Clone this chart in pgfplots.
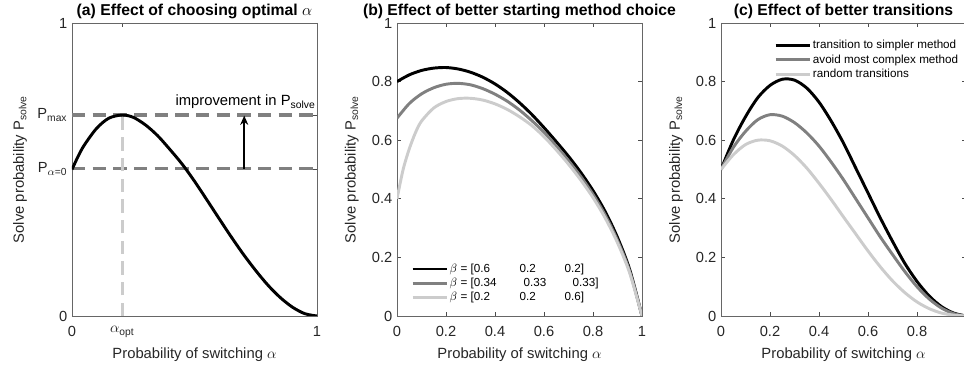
\documentclass[border=0pt]{standalone}
\usepackage{pgfplots}
\pgfplotsset{compat=1.18}
\usepackage{fontspec}
\setmainfont{Liberation Sans}
\usetikzlibrary{arrows.meta}
\definecolor{axgray}{HTML}{262626}
\definecolor{mgray}{HTML}{808080}
\definecolor{lgray}{HTML}{CCCCCC}
\pgfplotsset{
  myaxis/.style={
    scale only axis, width=183.75pt, height=219.75pt,
    xmin=0,xmax=1,ymin=0,ymax=1,
    axis line style={black!60, line width=0.5pt},
    tick style={black!70, line width=0.5pt},
    tick align=inside, major tick length=3pt,
    tick label style={font=\fontsize{11}{13}\selectfont, text=axgray},
    xticklabel style={yshift=-4.5pt},
    /pgf/number format/assume math mode=true,
    label style={font=\fontsize{11.1}{13}\selectfont, text=axgray},
    title style={font=\fontsize{11.8}{14}\selectfont\bfseries, at={(0.5,1)}, anchor=base, yshift=-0.75pt},
    xlabel style={at={(axis description cs:0.5,-0.133)}, anchor=center},
    ylabel style={at={(axis description cs:-0.184,0.5)}, anchor=center},
    xlabel={Probability of switching $\alpha$},
    ylabel={Solve probability P\textsubscript{solve}},
    legend cell align=left,
    legend image code/.code={\draw[#1] (0pt,0pt) -- (26pt,0pt);},
    legend style={draw=none, fill=none, font=\fontsize{8.75}{10}\selectfont,
      nodes={inner sep=0.8pt, text height=7pt, text depth=2.2pt}, text=black},
  },
  cblack/.style={black, line width=2.2pt, smooth},
  cgray/.style={mgray, line width=2.2pt, smooth},
  clight/.style={lgray, line width=2.2pt, smooth},
}
\begin{document}
\begin{tikzpicture}
\useasboundingbox (0,0) rectangle (723pt,278.25pt);
\clip (0,0) rectangle (723pt,278.25pt);

% ---------------- (a)
\begin{axis}[myaxis, at={(54pt,41.25pt)}, anchor=south west,
  title={(a) Effect of choosing optimal $\alpha$},
  xtick={0,0.205,1}, xticklabels={0,{$\alpha$\textsubscript{opt}},1},
  ytick={0,0.502,0.686,1}, yticklabels={0,{P\textsubscript{$\alpha$=0}},{P\textsubscript{max}},1},
  ylabel style={at={(axis description cs:-0.212,0.5)}},
]
\addplot[mgray, line width=2.3pt, dash pattern=on 10pt off 5.5pt] coordinates {(0,0.686) (1,0.686)};
\addplot[mgray, line width=2.3pt, dash pattern=on 10pt off 5.5pt] coordinates {(0,0.502) (1,0.502)};
\addplot[lgray, line width=2.3pt, dash pattern=on 10pt off 5.5pt] coordinates {(0.205,0) (0.205,0.686)};
\addplot[black, line width=1.3pt, -{Stealth[length=7pt,width=6pt]}] coordinates {(0.703,0.502) (0.703,0.684)};
\addplot[cblack] coordinates {
(0,0.50) (0.025,0.545) (0.05,0.583) (0.1,0.64) (0.15,0.675) (0.205,0.686) (0.25,0.678)
(0.3,0.652) (0.35,0.615) (0.4,0.568) (0.45,0.518) (0.5,0.46) (0.55,0.397) (0.6,0.333)
(0.65,0.27) (0.7,0.21) (0.75,0.155) (0.8,0.105) (0.85,0.063) (0.9,0.03) (0.95,0.008) (1,0)};
\node[anchor=base east, font=\fontsize{11.1}{13}\selectfont, text=black, inner sep=0pt]
  at (axis cs:0.995,0.717) {improvement in P\textsubscript{solve}};
\end{axis}

% ---------------- (b)
\begin{axis}[myaxis, at={(297.75pt,41.25pt)}, anchor=south west,
  title={(b) Effect of better starting method choice},
  xtick={0,0.2,...,1}, ytick={0,0.2,...,1},
  legend style={at={(rel axis cs:0.04,0.195)}, anchor=north west},
]
\addplot[cblack] coordinates {
(0,0.80) (0.05,0.823) (0.1,0.838) (0.15,0.846) (0.2,0.848) (0.25,0.843) (0.3,0.832)
(0.35,0.815) (0.4,0.792) (0.45,0.763) (0.5,0.728) (0.55,0.688) (0.6,0.643) (0.65,0.595)
(0.7,0.545) (0.75,0.49) (0.8,0.428) (0.85,0.356) (0.9,0.268) (0.95,0.158) (1,0)};
\addplot[cgray] coordinates {
(0,0.675) (0.05,0.725) (0.1,0.758) (0.15,0.779) (0.2,0.791) (0.25,0.794) (0.3,0.789)
(0.35,0.776) (0.4,0.757) (0.45,0.733) (0.5,0.703) (0.55,0.667) (0.6,0.627) (0.65,0.58)
(0.7,0.53) (0.75,0.476) (0.8,0.415) (0.85,0.344) (0.9,0.258) (0.95,0.152) (1,0)};
\addplot[clight] coordinates {
(0,0.40) (0.025,0.50) (0.05,0.57) (0.075,0.625) (0.1,0.665) (0.15,0.71) (0.2,0.732)
(0.25,0.742) (0.3,0.743) (0.35,0.737) (0.4,0.724) (0.45,0.705) (0.5,0.68) (0.55,0.65)
(0.6,0.612) (0.65,0.567) (0.7,0.518) (0.75,0.464) (0.8,0.404) (0.85,0.334) (0.9,0.25)
(0.95,0.146) (1,0)};
\legend{
 {\makebox[52.5pt][l]{$\beta$ = [0.6}\makebox[33.75pt][l]{0.2}0.2]},
 {\makebox[55.5pt][l]{$\beta$ = [0.34}\makebox[36.75pt][l]{0.33}0.33]},
 {\makebox[52.5pt][l]{$\beta$ = [0.2}\makebox[33.75pt][l]{0.2}0.6]}}
\end{axis}

% ---------------- (c)
\begin{axis}[myaxis, at={(540.75pt,41.25pt)}, anchor=south west,
  title={(c) Effect of better transitions},
  xtick={0,0.2,0.4,0.6,0.8}, ytick={0,0.2,...,1},
  legend style={at={(rel axis cs:0.2,0.958)}, anchor=north west},
]
\addplot[cblack] coordinates {
(0,0.5) (0.05,0.60) (0.1,0.68) (0.15,0.745) (0.2,0.787) (0.25,0.808) (0.3,0.805)
(0.35,0.778) (0.4,0.73) (0.45,0.665) (0.5,0.59) (0.55,0.505) (0.6,0.42) (0.65,0.335)
(0.7,0.255) (0.75,0.18) (0.8,0.118) (0.85,0.068) (0.9,0.032) (0.95,0.01) (1,0)};
\addplot[cgray] coordinates {
(0,0.5) (0.05,0.575) (0.1,0.63) (0.15,0.67) (0.2,0.687) (0.25,0.682) (0.3,0.66)
(0.35,0.625) (0.4,0.58) (0.45,0.525) (0.5,0.465) (0.55,0.4) (0.6,0.335) (0.65,0.27)
(0.7,0.21) (0.75,0.152) (0.8,0.1) (0.85,0.058) (0.9,0.027) (0.95,0.008) (1,0)};
\addplot[clight] coordinates {
(0,0.5) (0.05,0.55) (0.1,0.585) (0.15,0.6) (0.2,0.598) (0.25,0.58) (0.3,0.548)
(0.35,0.505) (0.4,0.453) (0.45,0.397) (0.5,0.338) (0.55,0.28) (0.6,0.222) (0.65,0.168)
(0.7,0.12) (0.75,0.08) (0.8,0.048) (0.85,0.025) (0.9,0.01) (0.95,0.003) (1,0)};
\legend{transition to simpler method, avoid most complex method, random transitions}
\end{axis}
\end{tikzpicture}
\end{document}
